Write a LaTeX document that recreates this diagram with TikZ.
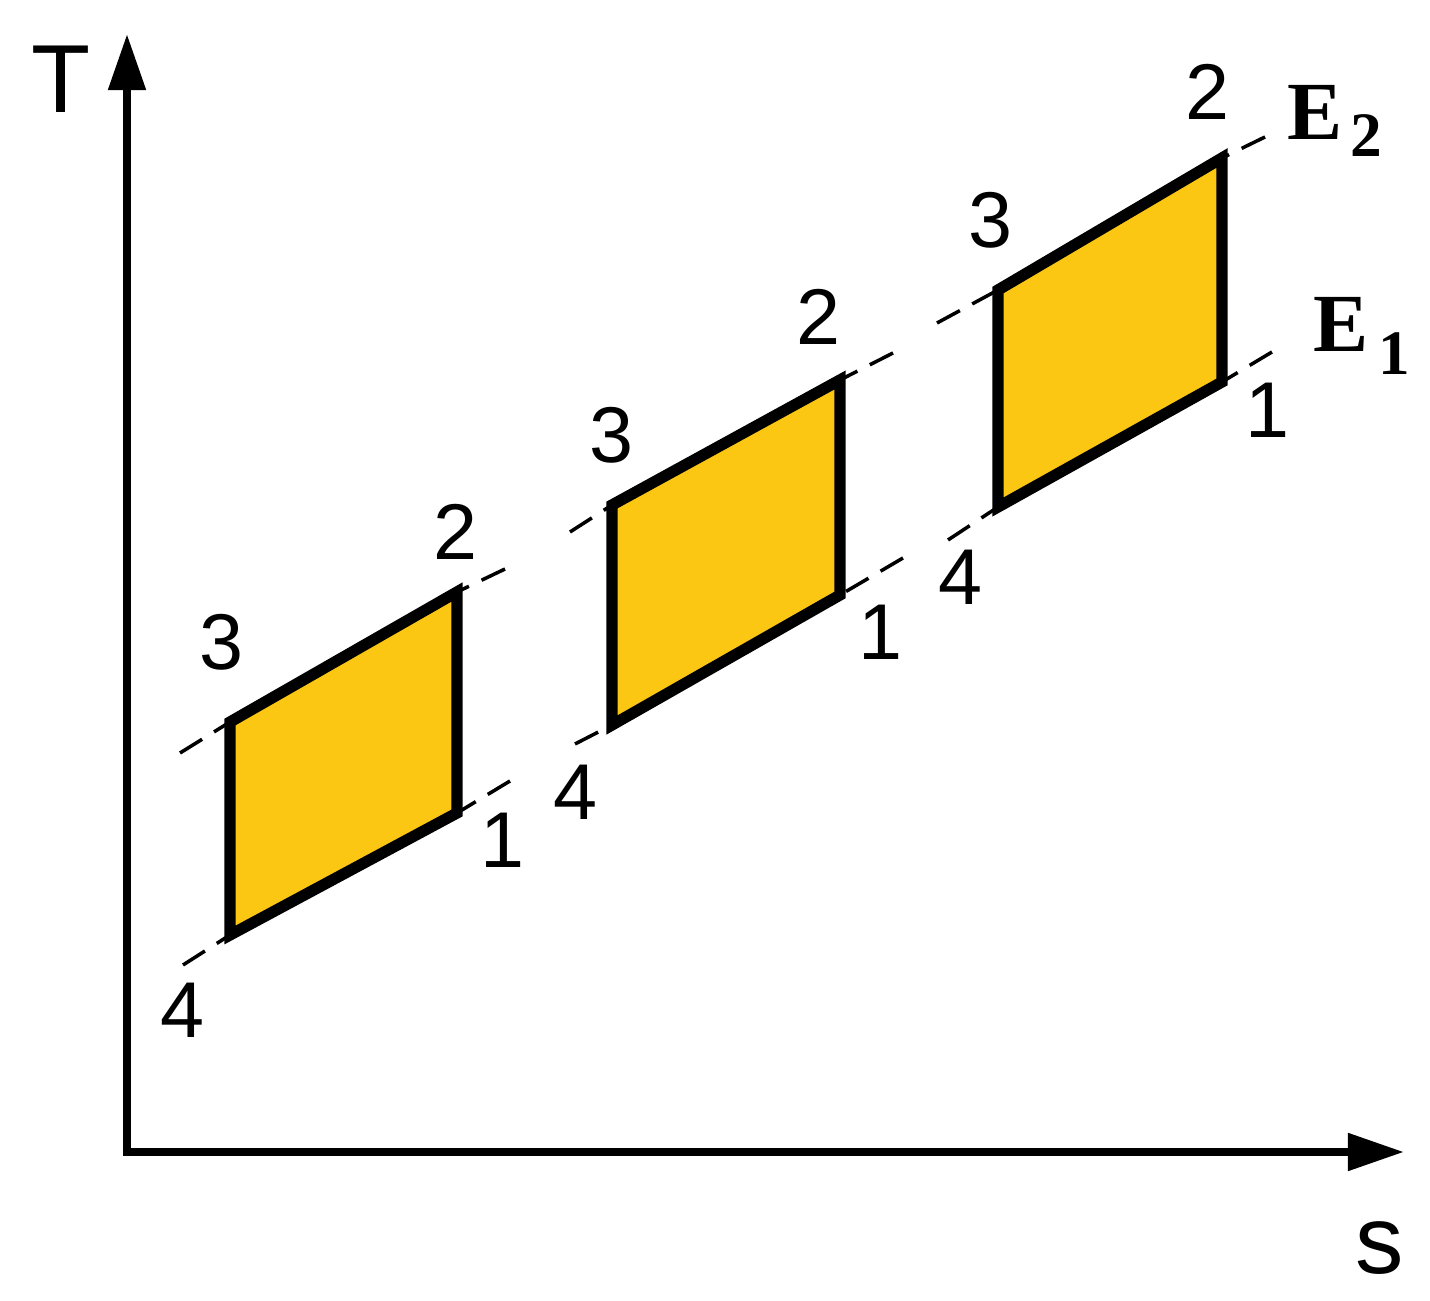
\documentclass[tikz,border=0pt]{standalone}
\usepackage{fontspec}
\setmainfont{Liberation Sans}
\newfontfamily\serifb{Liberation Serif}
\usetikzlibrary{arrows.meta}
\definecolor{cyc}{HTML}{FCC712}
\begin{document}
\begin{tikzpicture}[x=0.01cm,y=-0.01cm,
  axis/.style={line width=2.3pt,-{Triangle[width=0.36cm,length=0.56cm]}},
  cycle/.style={line width=3.2pt,fill=cyc,line join=miter},
  ext/.style={line width=1pt,dash pattern=on 0.26cm off 0.14cm},
  num/.style={inner sep=0pt,anchor=base,font=\fontsize{22.5}{24}\selectfont},
  ax/.style={inner sep=0pt,anchor=base,font=\fontsize{27.5}{30}\selectfont}]
\useasboundingbox (0,0) rectangle (1430,1301);
% axes
\coordinate (O) at (127,1152);
\coordinate (Ty) at (127,34);
\coordinate (Sx) at (1404,1152);
\draw[axis] (O) -- (Ty);
\draw[axis] ([xshift=-1.1pt]O) -- (Sx);
\node[ax] (T) at (61,113) {T};
\node[ax] (S) at (1380,1273) {s};
% cycle 1
\coordinate (a4) at (230,935);
\coordinate (a1) at (457,813);
\coordinate (a2) at (457,592);
\coordinate (a3) at (230,722);
% cycle 2
\coordinate (b4) at (612,725);
\coordinate (b1) at (840,595);
\coordinate (b2) at (840,380);
\coordinate (b3) at (612,505);
% cycle 3
\coordinate (c4) at (998,507);
\coordinate (c1) at (1222,382);
\coordinate (c2) at (1222,158);
\coordinate (c3) at (998,290);
% dashed extensions (outer ends)
\coordinate (ea3) at (180,753);
\coordinate (ea2) at (505,569);
\coordinate (ea4) at (183,965);
\coordinate (ea1) at (510,781);
\coordinate (eb3) at (570,532);
\coordinate (eb2) at (893,353);
\coordinate (eb4) at (575,744);
\coordinate (eb1) at (903,558);
\coordinate (ec3) at (937,323);
\coordinate (ec2) at (1265,137);
\coordinate (ec4) at (948,540);
\coordinate (ec1) at (1272,352);
\foreach \e/\v in {ea3/a3,ea2/a2,ea4/a4,ea1/a1,eb3/b3,eb2/b2,eb4/b4,eb1/b1,ec3/c3,ec2/c2,ec4/c4,ec1/c1}
  \draw[ext] (\e) -- (\v);
% cycles
\draw[cycle] (a4) -- (a1) -- (a2) -- (a3) -- cycle;
\draw[cycle] (b4) -- (b1) -- (b2) -- (b3) -- cycle;
\draw[cycle] (c4) -- (c1) -- (c2) -- (c3) -- cycle;
% labels
\node[num] (la3) at (222,670) {3};
\node[num] (la2) at (455,560) {2};
\node[num] (la1) at (502,868) {1};
\node[num] (la4) at (183,1038) {4};
\node[num] (lb3) at (611,463) {3};
\node[num] (lb2) at (818,345) {2};
\node[num] (lb1) at (880,660) {1};
\node[num] (lb4) at (575,820) {4};
\node[num] (lc3) at (990,248) {3};
\node[num] (lc2) at (1207,120) {2};
\node[num] (lc1) at (1267,438) {1};
\node[num] (lc4) at (960,605) {4};
% E labels
\node[inner sep=0pt,anchor=base west] (E2) at (1287,140)
  {\serifb\bfseries\fontsize{23.5}{25}\selectfont E\hspace{0.08cm}\raisebox{-4.8pt}{\fontsize{18}{19}\selectfont 2}};
\node[inner sep=0pt,anchor=base west] (E1) at (1313,352)
  {\serifb\bfseries\fontsize{23.5}{25}\selectfont E\hspace{0.1cm}\raisebox{-6.5pt}{\fontsize{18}{19}\selectfont 1}};
\end{tikzpicture}
\end{document}
